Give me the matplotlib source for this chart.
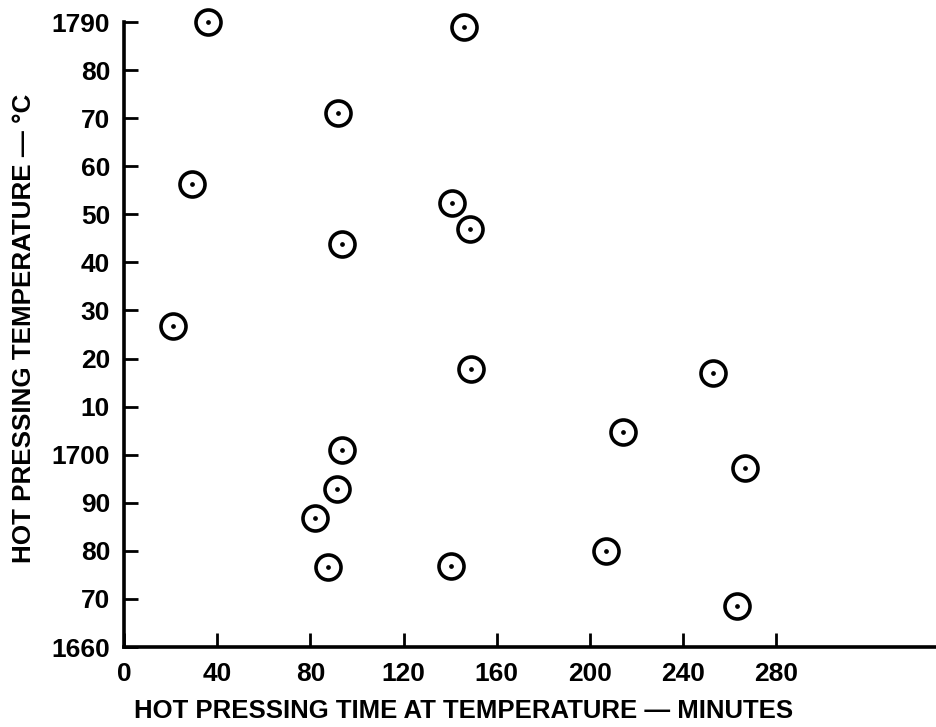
import numpy as np
import matplotlib.pyplot as plt

plt.rcParams['font.family'] = ['Liberation Sans', 'DejaVu Sans']
plt.rcParams['font.weight'] = 'bold'

# Data
time_min = [36, 146, 92, 29, 141, 148.5, 93.5, 21, 149, 253, 214, 93.5, 266.5, 91.5, 82, 207, 87.5, 140.5, 263]
temp_c = [1790, 1789, 1771, 1756.3, 1752.4, 1747, 1743.8, 1726.8, 1717.9, 1717, 1704.8, 1701, 1697.3, 1692.9, 1686.9, 1680, 1676.7, 1676.9, 1668.6]

X_TICKS = [0, 40, 80, 120, 160, 200, 240, 280]
Y_TICKS = [1660, 1670, 1680, 1690, 1700, 1710, 1720, 1730, 1740, 1750, 1760, 1770, 1780, 1790]
Y_LABELS = ["1660", "70", "80", "90", "1700", "10", "20", "30", "40", "50", "60", "70", "80", "1790"]

fig = plt.figure(figsize=(9.37, 7.27), dpi=100)
ax = fig.add_axes([0.1323, 0.110, 0.8677, 0.8597])

# circle with a dot in the middle
ax.plot(time_min, temp_c, linestyle='none', marker='o', markersize=18,
        markerfacecolor='white', markeredgecolor='black', markeredgewidth=2.6,
        clip_on=False, zorder=3)
ax.plot(time_min, temp_c, linestyle='none', marker='o', markersize=2.4,
        color='black', clip_on=False, zorder=4)

ax.set_xlim(0, 349)
ax.set_ylim(1660, 1790)

ax.set_xticks(X_TICKS)
ax.set_yticks(Y_TICKS)
ax.set_yticklabels(Y_LABELS)

for side in ['top', 'right']:
    ax.spines[side].set_visible(False)
for side in ['left', 'bottom']:
    ax.spines[side].set_linewidth(2.6)

ax.tick_params(axis='both', direction='in', length=10, width=2, labelsize=19)
ax.tick_params(axis='x', pad=11)
ax.tick_params(axis='y', pad=10)

ax.set_xlabel("HOT PRESSING TIME AT TEMPERATURE — MINUTES", fontsize=18.5,
              fontweight='bold')
ax.xaxis.set_label_coords(0.418, -0.083)
ax.set_ylabel("HOT PRESSING TEMPERATURE — °C", fontsize=18.7,
              fontweight='bold', va='center')
ax.yaxis.set_label_coords(-0.123, 0.51)

fig.savefig("out.png", dpi=100)
